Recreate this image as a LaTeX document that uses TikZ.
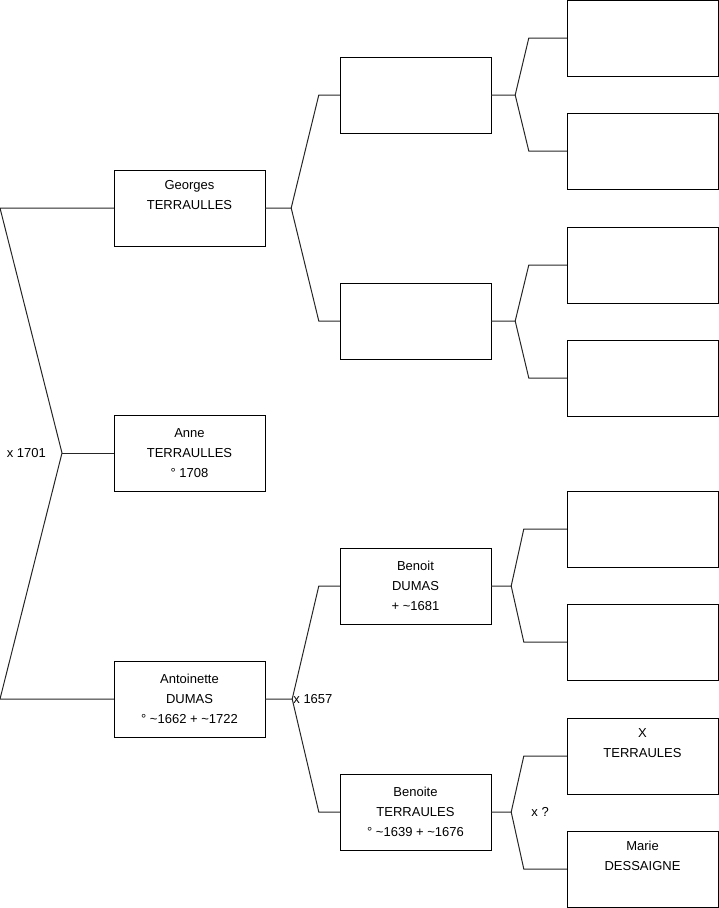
\documentclass[tikz,border=0pt]{standalone}
\usepackage{fontspec}
\setmainfont{Liberation Sans}
\usepackage{tikz}
\usetikzlibrary{positioning, calc}
\tikzset{
  person/.style={rectangle, draw=black, fill=white, minimum width=151pt,
                 minimum height=76pt, inner sep=0pt, align=center,
                 font=\fontsize{13}{20}\selectfont},
  link/.style={draw=black!85, line width=1pt},
  unionlabel/.style={font=\fontsize{13}{15}\selectfont, inner sep=1pt},
}
\begin{document}
\begin{tikzpicture}[x=1pt, y=-1pt]
  \useasboundingbox (0,0) rectangle (719,908);

  % first column
  \node[person] (georges) at (189.5,208) {Georges\\ TERRAULLES\\ \strut};
  \node[person] (anne) at (189.5,453) {Anne\\ TERRAULLES\\ \textdegree{} 1708};
  \node[person] (antoinette) at (189.5,699) {Antoinette\\ DUMAS\\ \textdegree{} \textasciitilde1662 + \textasciitilde1722};

  % second column
  \node[person] (gpere) at (415.5,95) {};
  \node[person] (gmere) at (415.5,321) {};
  \node[person] (benoit) at (415.5,586) {Benoit\\ DUMAS\\ + \textasciitilde1681};
  \node[person] (benoite) at (415.5,812) {Benoite\\ TERRAULES\\ \textdegree{} \textasciitilde1639 + \textasciitilde1676};

  % third column
  \node[person] (gpa) at (642.5,38) {};
  \node[person] (gpb) at (642.5,151) {};
  \node[person] (gma) at (642.5,265) {};
  \node[person] (gmb) at (642.5,378) {};
  \node[person] (bpa) at (642.5,529) {};
  \node[person] (bpb) at (642.5,642) {};
  \node[person] (xterr) at (642.5,756) {X\\ TERRAULES\\ \strut};
  \node[person] (marie) at (642.5,869) {Marie\\ DESSAIGNE\\ \strut};

  % couple of the first column
  \coordinate (top) at (0,208);
  \coordinate (mid) at (62,453);
  \coordinate (bot) at (0,699);
  \draw[link] (georges.west) -- (top) -- (mid) -- (bot) -- (antoinette.west);
  \draw[link] (mid) -- (anne.west);
  \node[unionlabel, left=15pt of mid] (u1701) {x 1701};

  % parents of Georges
  \coordinate[right=26pt of georges.east] (gfork);
  \draw[link] (georges.east) -- (gfork) -- ([xshift=-21pt]gpere.west) -- (gpere.west);
  \draw[link] (gfork) -- ([xshift=-21pt]gmere.west) -- (gmere.west);

  % parents of Antoinette
  \coordinate[right=27pt of antoinette.east] (afork);
  \draw[link] (antoinette.east) -- (afork) -- ([xshift=-21pt]benoit.west) -- (benoit.west);
  \draw[link] (afork) -- ([xshift=-21pt]benoite.west) -- (benoite.west);
  \node[unionlabel, anchor=west] (u1657) at (afork) {x 1657};

  % third generation
  \coordinate[right=24pt of gpere.east] (gpfork);
  \draw[link] (gpere.east) -- (gpfork) -- ([xshift=-38pt]gpa.west) -- (gpa.west);
  \draw[link] (gpfork) -- ([xshift=-38pt]gpb.west) -- (gpb.west);

  \coordinate[right=24pt of gmere.east] (gmfork);
  \draw[link] (gmere.east) -- (gmfork) -- ([xshift=-38pt]gma.west) -- (gma.west);
  \draw[link] (gmfork) -- ([xshift=-38pt]gmb.west) -- (gmb.west);

  \coordinate[right=20pt of benoit.east] (bfork);
  \draw[link] (benoit.east) -- (bfork) -- ([xshift=-43pt]bpa.west) -- (bpa.west);
  \draw[link] (bfork) -- ([xshift=-43pt]bpb.west) -- (bpb.west);

  \coordinate[right=20pt of benoite.east] (efork);
  \draw[link] (benoite.east) -- (efork) -- ([xshift=-43pt]xterr.west) -- (xterr.west);
  \draw[link] (efork) -- ([xshift=-43pt]marie.west) -- (marie.west);
  \node[unionlabel, right=19pt of efork] (uq) {x ?};

\end{tikzpicture}
\end{document}
